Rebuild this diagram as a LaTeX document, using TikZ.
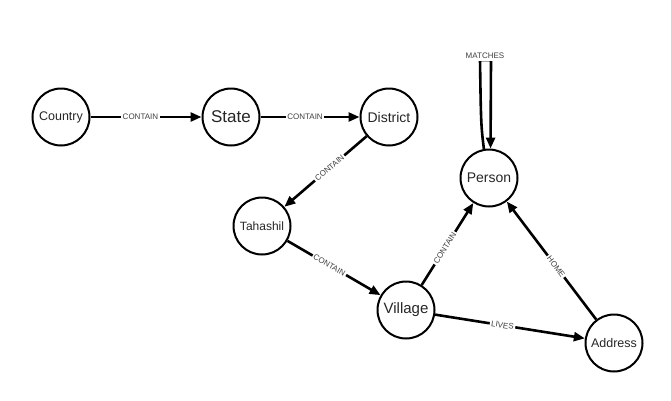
\documentclass[tikz,border=0pt]{standalone}
\usepackage{fontspec}
\setmainfont{Liberation Sans}
\usetikzlibrary{arrows.meta}
\begin{document}
\begin{tikzpicture}[x=1pt,y=-1pt,
  ent/.style={circle,draw=black,line width=2pt,minimum size=57pt,inner sep=0pt,text=black!85},
  edge/.style={line width=2.6pt,-{Triangle[length=11pt,width=9pt]}},
  lab/.style={font=\fontsize{8}{9}\selectfont,text=black!75,fill=white,inner sep=1.5pt}]
\useasboundingbox (0,0) rectangle (671,400);
\node[ent,font=\fontsize{12.5}{14}\selectfont] (country) at (61,117) {Country};
\node[ent,font=\fontsize{17}{19}\selectfont] (state) at (231,117) {State};
\node[ent,font=\fontsize{14}{16}\selectfont] (district) at (389,117) {District};
\node[ent,font=\fontsize{12}{14}\selectfont] (tahashil) at (262,226) {Tahashil};
\node[ent,font=\fontsize{15}{17}\selectfont] (village) at (406,310) {Village};
\node[ent,font=\fontsize{14}{16}\selectfont] (person) at (489,178) {Person};
\node[ent,font=\fontsize{12.5}{14}\selectfont] (address) at (614,343) {Address};
\draw[edge] (country) -- node[lab,pos=0.45] {CONTAIN} (state);
\draw[edge] (state) -- node[lab,pos=0.45] {CONTAIN} (district);
\draw[edge] (district) -- node[lab,sloped,pos=0.45] {CONTAIN} (tahashil);
\draw[edge] (tahashil) -- node[lab,sloped,pos=0.45] {CONTAIN} (village);
\draw[edge] (village) -- node[lab,sloped,pos=0.45] {CONTAIN} (person);
\draw[edge] (village) -- node[lab,sloped,pos=0.45] {LIVES} (address);
\draw[edge] (address) -- node[lab,sloped,pos=0.45] {HOME} (person);
\coordinate (ml) at (480,60);
\coordinate (mr) at (491,60);
\draw[edge] (person.100) .. controls (481,125) .. (ml) -- (mr) -- (person.87);
\node[lab,inner sep=2.5pt] (mlab) at (485,56) {MATCHES};
\end{tikzpicture}
\end{document}
